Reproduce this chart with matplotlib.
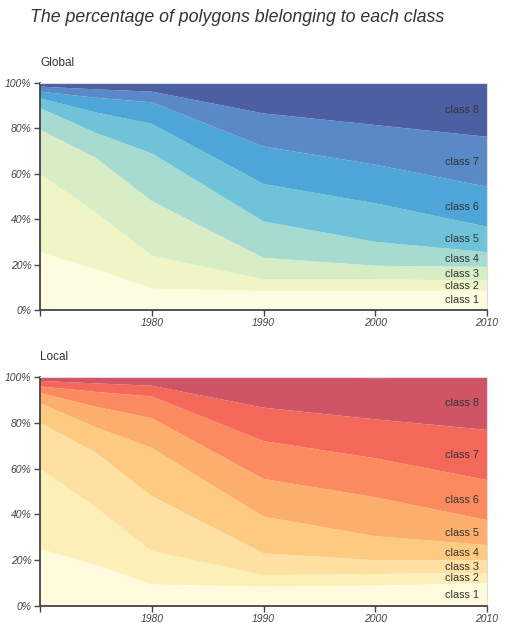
import matplotlib
matplotlib.use("Agg")
import matplotlib.pyplot as plt
import numpy as np

years = [1970, 1975, 1980, 1990, 2000, 2010]
class_names = ["class 1", "class 2", "class 3", "class 4", "class 5", "class 6", "class 7", "class 8"]

# percentage of polygons in each class per year
global_values = [
    [25.5, 18.0, 9.5, 8.5, 8.5, 8.5],
    [34.5, 25.0, 14.5, 5.0, 5.0, 4.5],
    [19.5, 24.0, 24.0, 9.5, 6.0, 6.0],
    [9.5, 11.0, 21.0, 16.0, 10.5, 6.5],
    [4.3, 9.0, 13.0, 16.5, 17.0, 11.2],
    [2.9, 6.5, 9.5, 16.5, 17.0, 17.6],
    [2.2, 3.7, 4.7, 14.6, 17.5, 22.0],
    [1.6, 2.8, 3.8, 13.4, 18.5, 23.7],
]
local_values = [
    [25.0, 18.0, 9.5, 8.5, 9.0, 10.0],
    [35.0, 25.0, 14.5, 5.0, 5.0, 4.4],
    [20.0, 24.0, 24.0, 9.5, 6.0, 5.6],
    [8.6, 11.0, 21.0, 16.0, 10.5, 6.6],
    [4.4, 9.0, 13.0, 16.5, 17.0, 10.9],
    [2.9, 6.5, 9.5, 16.5, 17.0, 17.5],
    [2.4, 3.7, 4.7, 14.6, 17.0, 21.9],
    [1.7, 2.8, 3.8, 13.4, 18.0, 23.1],
]

global_colors = ["#fdfbe0", "#eff5c4", "#d6edc6", "#a7dbcf", "#6ec3d9", "#4ea5d7", "#5a89c8", "#4b5fa2"]
local_colors = ["#fffbdc", "#fdefb8", "#fde0a2", "#fdca82", "#fcae6c", "#fb8b5f", "#f4685a", "#cf5566"]

y_ticks = [0, 20, 40, 60, 80, 100]
y_labels = ["0%", "20%", "40%", "60%", "80%", "100%"]
x_ticks = [1970, 1980, 1990, 2000, 2010]
x_labels = ["", "1980", "1990", "2000", "2010"]

plt.rcParams['font.family'] = ['Liberation Sans', 'DejaVu Sans']

fig = plt.figure(figsize=(5.11, 6.23), dpi=100)
fig.text(30 / 511, 1 - 17 / 623, "The percentage of polygons blelonging to each class",
         fontsize=12.8, style='italic', color='#333333', va='center', ha='left')


def draw(ax, values, colors, name):
    ax.stackplot(years, np.array(values), colors=colors, linewidth=0)
    ax.set_xlim(1970, 2010)
    ax.set_ylim(0, 100)
    ax.set_yticks(y_ticks)
    ax.set_yticklabels(y_labels, fontsize=7.5, style='italic', color='#444444')
    ax.set_xticks(x_ticks)
    ax.set_xticklabels(x_labels, fontsize=7.5, style='italic', color='#444444')
    ax.tick_params(axis='both', length=4, width=1, color='#444444', pad=2, direction='out')
    for s in ['left', 'bottom']:
        ax.spines[s].set_color('#444444')
        ax.spines[s].set_linewidth(1.3)
    for s in ['top', 'right']:
        ax.spines[s].set_color('#dddddd')
        ax.spines[s].set_linewidth(0.8)
    cum = np.cumsum(np.array(values)[:, -1])
    prev = 0
    for i, c in enumerate(cum):
        mid = (prev + c) / 2
        ax.text(2009.3, mid, class_names[i], ha='right', va='center', fontsize=7.8, color='#333333')
        prev = c
    ax.text(0, 1.06, name, transform=ax.transAxes, fontsize=8.5, color='#333333', ha='left', va='bottom')


ax1 = fig.add_axes([40 / 511, 1 - 310 / 623, 447 / 511, 227 / 623])
draw(ax1, global_values, global_colors, "Global")
ax2 = fig.add_axes([40 / 511, 1 - 606 / 623, 447 / 511, 229 / 623])
draw(ax2, local_values, local_colors, "Local")

fig.savefig("out.png", dpi=100)
